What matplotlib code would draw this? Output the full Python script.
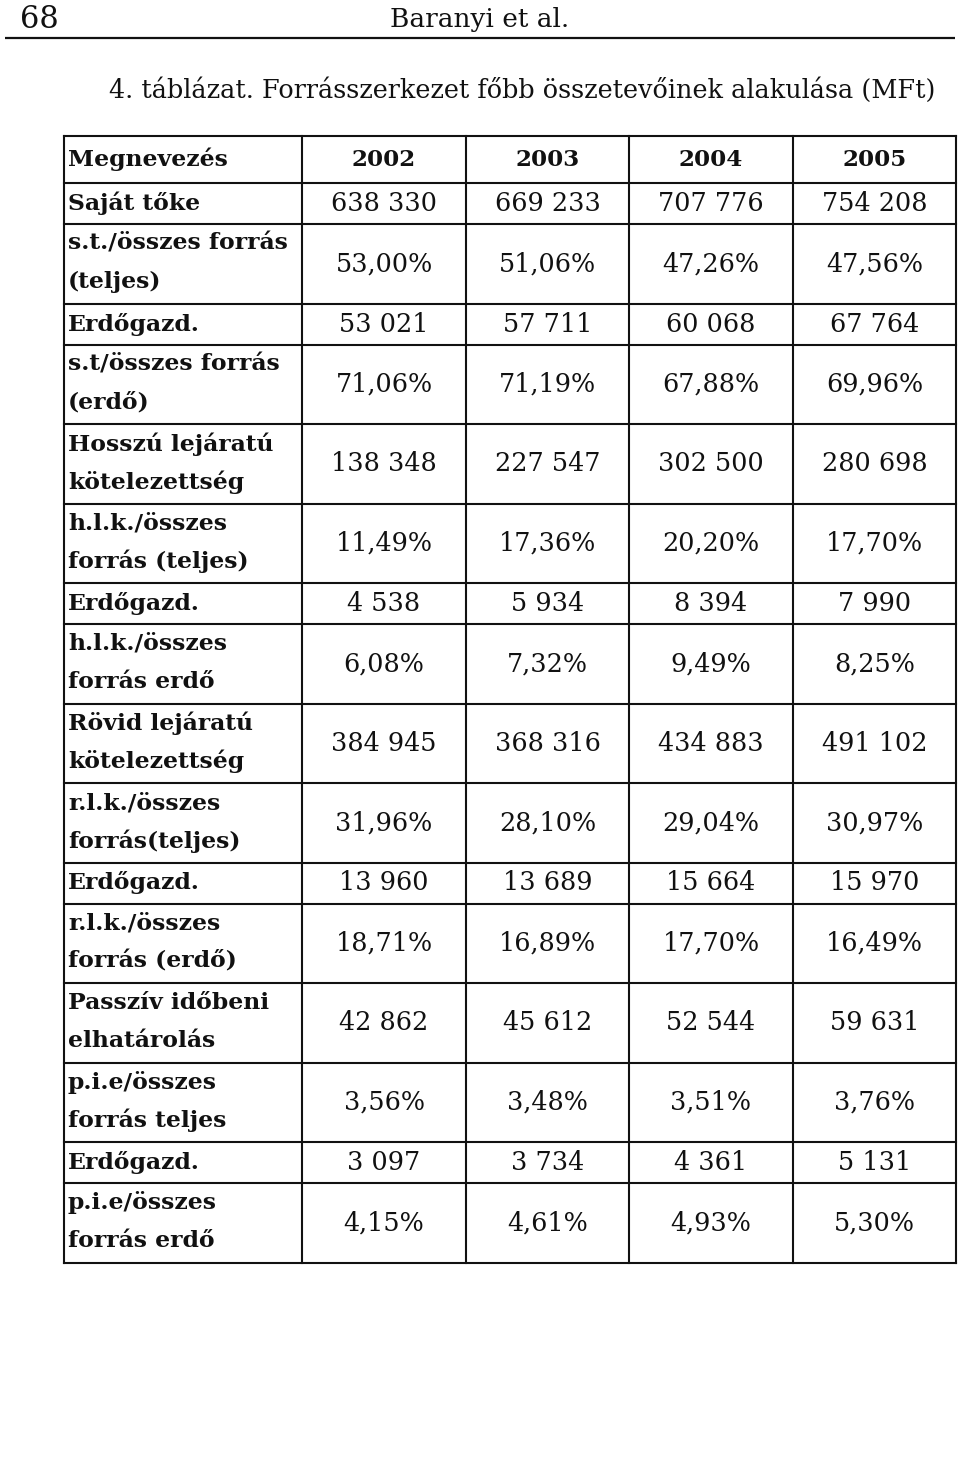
import matplotlib
matplotlib.use("Agg")
import matplotlib.pyplot as plt

# ── Table content ────────────────────────────────────────────────────────────
page_no = "68"
running_head = "Baranyi et al."
caption = "4. táblázat. Forrásszerkezet főbb összetevőinek alakulása (MFt)"

header_label = "Megnevezés"
years = ["2002", "2003", "2004", "2005"]

row_labels = [
    "Saját tőke",
    "s.t./összes forrás\n(teljes)",
    "Erdőgazd.",
    "s.t/összes forrás\n(erdő)",
    "Hosszú lejáratú\nkötelezettség",
    "h.l.k./összes\nforrás (teljes)",
    "Erdőgazd.",
    "h.l.k./összes\nforrás erdő",
    "Rövid lejáratú\nkötelezettség",
    "r.l.k./összes\nforrás(teljes)",
    "Erdőgazd.",
    "r.l.k./összes\nforrás (erdő)",
    "Passzív időbeni\nelhatárolás",
    "p.i.e/összes\nforrás teljes",
    "Erdőgazd.",
    "p.i.e/összes\nforrás erdő",
]

vals_2002 = ["638 330", "53,00%", "53 021", "71,06%", "138 348", "11,49%", "4 538", "6,08%",
             "384 945", "31,96%", "13 960", "18,71%", "42 862", "3,56%", "3 097", "4,15%"]
vals_2003 = ["669 233", "51,06%", "57 711", "71,19%", "227 547", "17,36%", "5 934", "7,32%",
             "368 316", "28,10%", "13 689", "16,89%", "45 612", "3,48%", "3 734", "4,61%"]
vals_2004 = ["707 776", "47,26%", "60 068", "67,88%", "302 500", "20,20%", "8 394", "9,49%",
             "434 883", "29,04%", "15 664", "17,70%", "52 544", "3,51%", "4 361", "4,93%"]
vals_2005 = ["754 208", "47,56%", "67 764", "69,96%", "280 698", "17,70%", "7 990", "8,25%",
             "491 102", "30,97%", "15 970", "16,49%", "59 631", "3,76%", "5 131", "5,30%"]

columns = [vals_2002, vals_2003, vals_2004, vals_2005]

# ── Layout (pixel coordinates) ──────────────────────────────────────────────
W, H = 960, 1459
SERIF = "DejaVu Serif"
INK = "#111111"

fig = plt.figure(figsize=(W / 100, H / 100), dpi=100, facecolor="white")
ax = fig.add_axes([0, 0, 1, 1])
ax.set_xlim(0, W)
ax.set_ylim(H, 0)
ax.axis("off")

# running header
ax.text(20, 20, page_no, fontsize=22, family=SERIF, color=INK, ha="left", va="center")
ax.text(480, 20, running_head, fontsize=19, family=SERIF, color=INK, ha="center", va="center")
ax.plot([5, 955], [38, 38], color=INK, lw=1.6, solid_capstyle="butt")

# caption
ax.text(522, 90, caption, fontsize=18.4, family=SERIF, color=INK, ha="center", va="center")

# grid geometry
col_x = [64, 302, 466, 629, 793, 956]
top = 136
HEAD_H, ONE_H, TWO_H = 47, 41, 79.5

row_y = [top, top + HEAD_H]
for lab in row_labels:
    row_y.append(row_y[-1] + (TWO_H if "\n" in lab else ONE_H))

LW = 1.5
for y in row_y:
    ax.plot([col_x[0], col_x[-1]], [y, y], color=INK, lw=LW, solid_capstyle="projecting")
for x in col_x:
    ax.plot([x, x], [row_y[0], row_y[-1]], color=INK, lw=LW, solid_capstyle="projecting")

LAB_FS = 16.9
YEAR_FS = 16.6
NUM_FS = 18.4
label_x = col_x[0] + 4
centers = [(col_x[i] + col_x[i + 1]) / 2 for i in range(1, 5)]

# header row
hy = (row_y[0] + row_y[1]) / 2
ax.text(label_x, hy, header_label, fontsize=LAB_FS, family=SERIF, weight="bold",
        color=INK, ha="left", va="center")
for cx, yr in zip(centers, years):
    ax.text(cx, hy, yr, fontsize=YEAR_FS, family=SERIF, weight="bold",
            color=INK, ha="center", va="center")

# body rows
for i, lab in enumerate(row_labels):
    y0, y1 = row_y[i + 1], row_y[i + 2]
    mid = (y0 + y1) / 2
    if "\n" in lab:
        first, second = lab.split("\n")
        ax.text(label_x, y0 + 20, first, fontsize=LAB_FS, family=SERIF, weight="bold",
                color=INK, ha="left", va="center")
        ax.text(label_x, y0 + 58, second, fontsize=LAB_FS, family=SERIF, weight="bold",
                color=INK, ha="left", va="center")
    else:
        ax.text(label_x, mid, lab, fontsize=LAB_FS, family=SERIF, weight="bold",
                color=INK, ha="left", va="center")
    for cx, col in zip(centers, columns):
        ax.text(cx, mid, col[i], fontsize=NUM_FS, family=SERIF, color=INK,
                ha="center", va="center")

fig.savefig("out.png", dpi=100, facecolor="white")
